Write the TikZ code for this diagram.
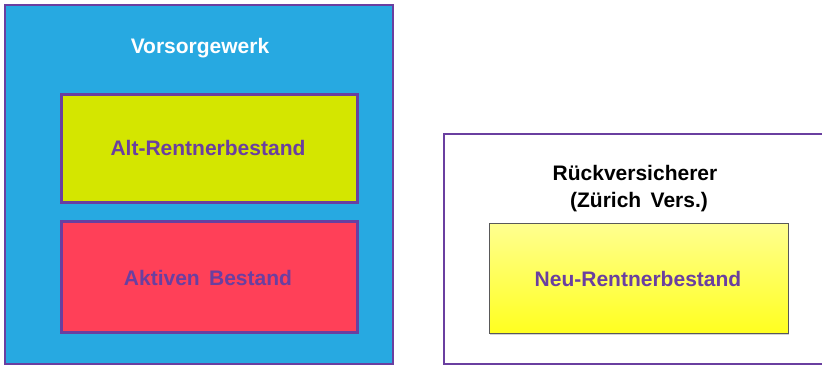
\documentclass[tikz,border=0pt]{standalone}
\usepackage{fontspec}
\setmainfont{Liberation Sans}
\usetikzlibrary{shadows}
\definecolor{vblue}{HTML}{27A9E1}
\definecolor{vpurple}{HTML}{6A3FA0}
\definecolor{vlime}{HTML}{D4E600}
\definecolor{vred}{HTML}{FF4058}
\definecolor{vyel}{HTML}{FFFF20}
\definecolor{vyeltop}{HTML}{FFFF90}
\tikzset{
  outerbox/.style={draw=vpurple, line width=2.5pt, inner sep=0pt},
  innerbox/.style={draw=vpurple, line width=3pt, inner sep=0pt,
    drop shadow={shadow xshift=1pt, shadow yshift=-2pt, opacity=0.35}},
  boxtext/.style={font=\fontsize{21}{25}\selectfont\bfseries, text=vpurple},
  headtext/.style={font=\fontsize{21}{27}\selectfont\bfseries, align=center}
}
\begin{document}
\begin{tikzpicture}[x=1pt,y=1pt]
\useasboundingbox (0,0) rectangle (822,365);
\clip (0,0) rectangle (822,365);
% left frame
\node[outerbox, fill=vblue, minimum width=388pt, minimum height=359pt] (vw) at (199,180.5) {};
\node[headtext, text=white] (vwt) at (200,317) {Vorsorgewerk};
\node[innerbox, fill=vlime, minimum width=296pt, minimum height=108pt] (alt) at (209,217) {};
\node[boxtext] (altt) at (208,217) {Alt-Rentnerbestand};
\node[innerbox, fill=vred, minimum width=296pt, minimum height=111pt] (akt) at (209,88.5) {};
\node[boxtext] (aktt) at (208,87) {Aktiven\, Bestand};
% right frame
\node[outerbox, fill=white, minimum width=386pt, minimum height=230pt] (rv) at (637,116) {};
\node[headtext, text=black] (rvt) at (635,176.5) {Rückversicherer\\\hspace{8pt}(Zürich\, Vers.)};
\node[draw=gray!70!black, line width=1pt, inner sep=0pt, top color=vyeltop, bottom color=vyel,
  minimum width=299pt, minimum height=110pt,
  drop shadow={shadow xshift=1pt, shadow yshift=-2pt, opacity=0.35}] (neu) at (638.5,87) {};
\node[boxtext] (neut) at (638,86) {Neu-Rentnerbestand};
\end{tikzpicture}
\end{document}
